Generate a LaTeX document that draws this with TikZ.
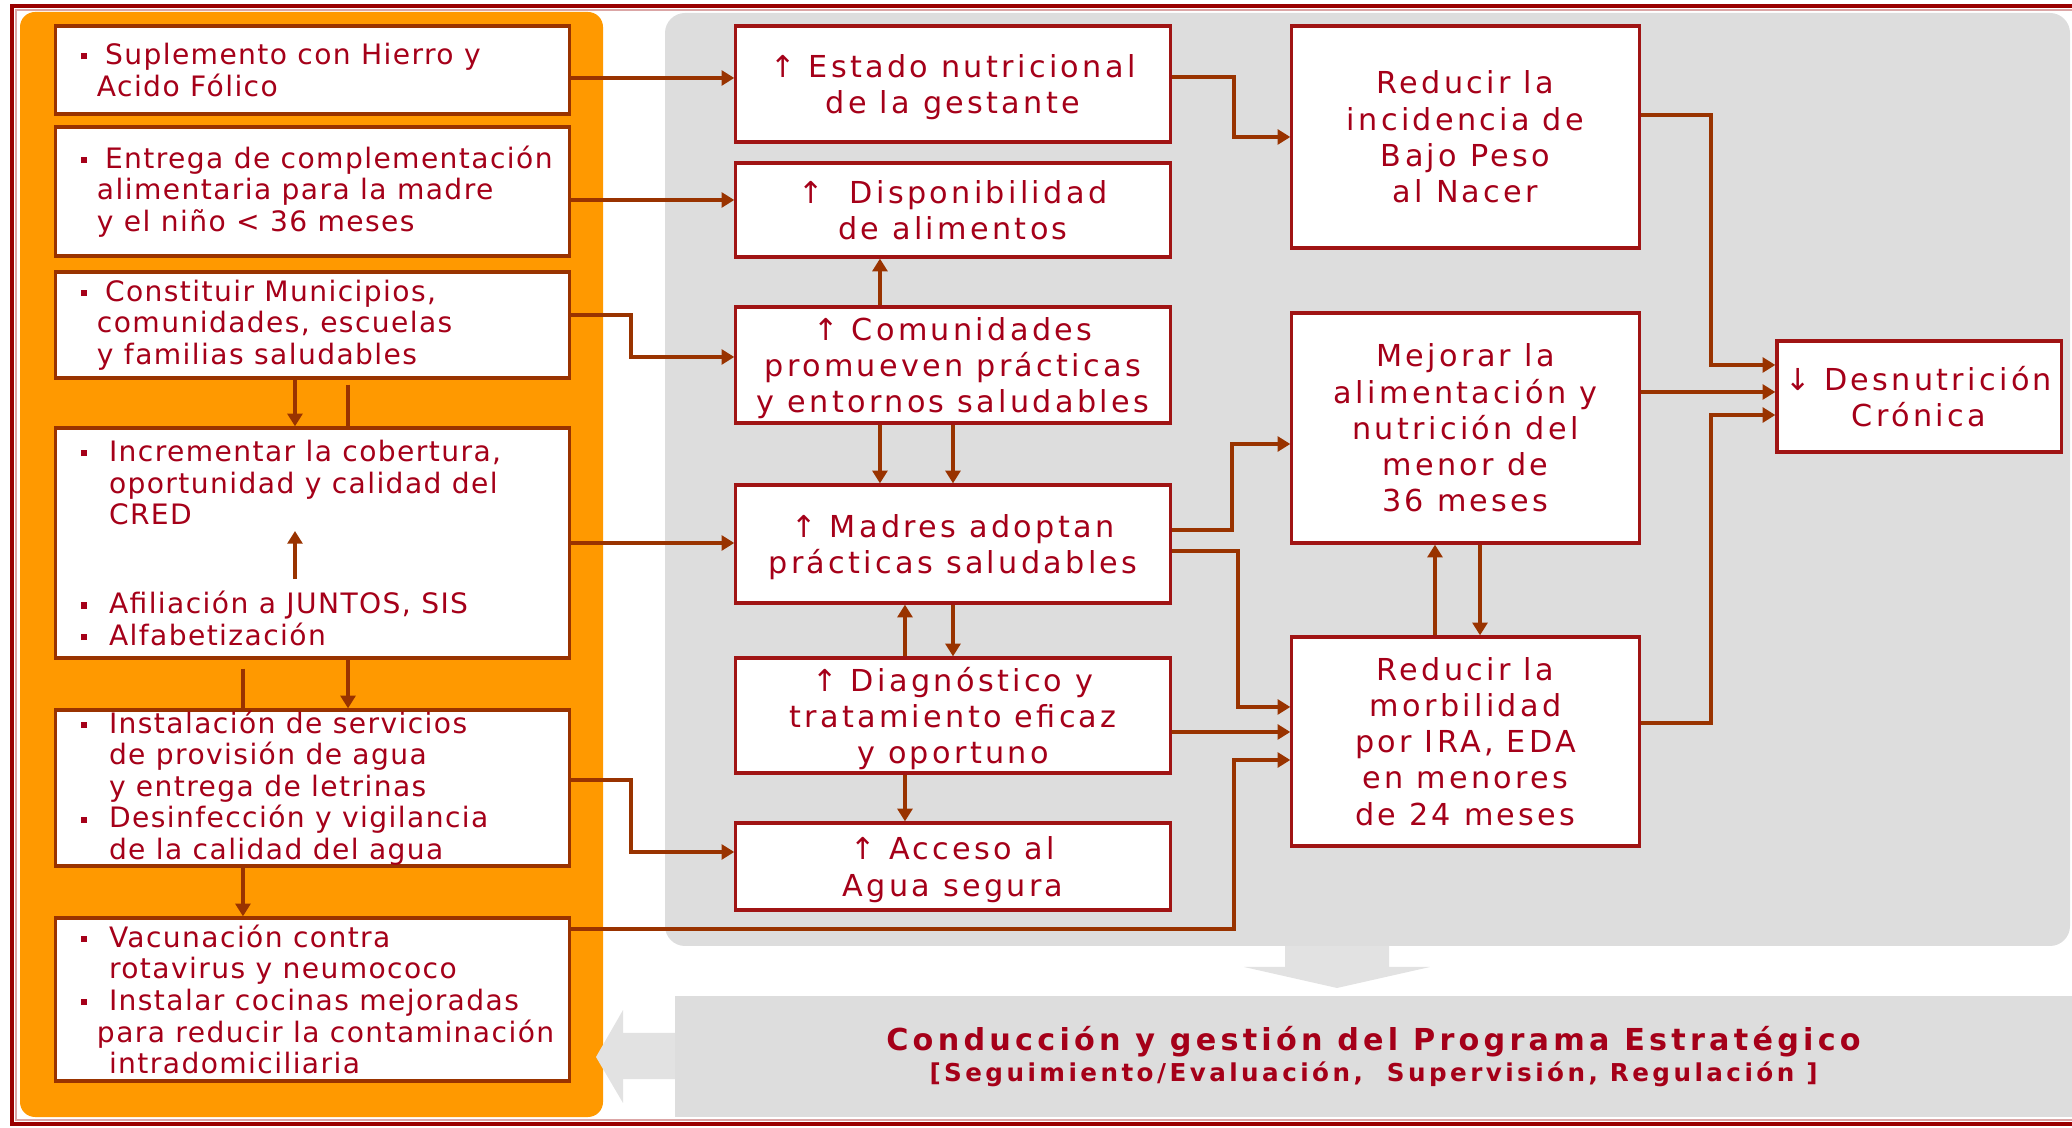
\documentclass[tikz,border=0pt]{standalone}
\usepackage{fontspec}
\setmainfont{DejaVu Sans}
\newfontfamily\FontLeft[LetterSpace=5]{DejaVu Sans}
\newfontfamily\FontBox[LetterSpace=11]{DejaVu Sans}
\newfontfamily\FontFoot[LetterSpace=14]{DejaVu Sans}
\usepackage{tikz}
\usetikzlibrary{arrows.meta}
\usepackage{xcolor}
\definecolor{ColFrame}{RGB}{153,0,0}
\definecolor{ColBox}{RGB}{160,20,20}
\definecolor{ColLine}{RGB}{153,51,0}
\definecolor{ColText}{RGB}{165,0,25}
\definecolor{ColOrange}{RGB}{255,153,0}
\definecolor{ColGray}{RGB}{221,221,221}
\newcommand{\Bul}[1][2.4mm]{\makebox[#1][l]{\rule[0.35ex]{0.6mm}{0.6mm}}}
\tikzstyle{BoxLeft}=[draw=ColLine,line width=0.9pt,fill=white,minimum width=51.3mm,inner sep=0pt]
\tikzstyle{TextLeft}=[align=left,inner sep=0pt,text=ColText,font=\FontLeft\fontsize{8}{9}\selectfont]
\tikzstyle{BoxBase}=[draw=ColBox,line width=0.9pt,fill=white,inner sep=0pt,
align=center,text=ColText,font=\FontBox\fontsize{8.6}{10.3}\selectfont]
\tikzstyle{BoxMid}=[BoxBase,minimum width=43.4mm,text depth=0pt]
\tikzstyle{BoxRight}=[BoxBase,minimum width=34.7mm]
\tikzstyle{FootPanel}=[fill=ColGray,minimum width=139.7mm,minimum height=12.1mm,inner sep=0pt,
align=center,text=ColText,font=\FontFoot\bfseries\fontsize{8.6}{8.8}\selectfont]
\tikzstyle{LinkArrow}=[ColLine,line width=1.1pt,-{Triangle[length=3.6pt,width=4.2pt]}]
\tikzstyle{LinkPlain}=[ColLine,line width=1.1pt]

\begin{document}
\begin{tikzpicture}[x=0.01cm,y=-0.01cm]
        \useasboundingbox(0,0)rectangle(2072,1128);
        \draw[ColFrame,line width=1.2pt](2072,6)--(12,6)--(12,1124)--(2072,1124);
        \draw[ColFrame!35,line width=0.4pt](2072,10)--(16,10)--(16,1120)--(2072,1120);
        \fill[ColOrange,rounded corners=1.5mm](20,12)rectangle(603,1117);
        \fill[ColGray,rounded corners=2mm](665,13)rectangle(2070,946);
        \fill[ColGray!85](1285,946)--(1389,946)--(1389,967)--(1430,967)--(1337,988)--(1244,967)--(1285,967)--cycle;
        \fill[ColGray!85](680,1033)--(623,1033)--(623,1010)--(596,1057)--(623,1103)--(623,1079)--(680,1079)--cycle;
        \node[FootPanel](Foot)at(1373.5,1056.5){Conducción y gestión del Programa Estratégico\\
        {\fontsize{7}{8.8}\selectfont[Seguimiento/Evaluación,\ \ Supervisión, Regulación ]}};

        \node[BoxLeft,minimum height=8.8mm](L1)at(312.5,70){};
        \node[BoxLeft,minimum height=12.9mm](L2)at(312.5,191.5){};
        \node[BoxLeft,minimum height=10.6mm](L3)at(312.5,325){};
        \node[BoxLeft,minimum height=23mm](L4)at(312.5,543){};
        \node[BoxLeft,minimum height=15.6mm](L5)at(312.5,788){};
        \node[BoxLeft,minimum height=16.3mm](L6)at(312.5,999.5){};
        \node[TextLeft,anchor=west](L1t)at([xshift=2.6mm]L1.west){\Bul Suplemento con Hierro y\\
        \hspace*{1.6mm}Acido Fólico};
        \node[TextLeft,anchor=west](L2t)at([xshift=2.6mm]L2.west){\Bul Entrega de complementación\\
        \hspace*{1.6mm}alimentaria para la madre\\\hspace*{1.6mm}y el niño < 36 meses};
        \node[TextLeft,anchor=west](L3t)at([xshift=2.6mm]L3.west){\Bul Constituir Municipios,\\
        \hspace*{1.6mm}comunidades, escuelas\\\hspace*{1.6mm}y familias saludables};
        \node[TextLeft,anchor=north west](L4a)at([xshift=2.6mm,yshift=-1.3mm]L4.north west){\Bul[2.8mm]Incrementar la cobertura,\\
        \hspace*{2.8mm}oportunidad y calidad del\\\hspace*{2.8mm}CRED};
        \node[TextLeft,anchor=south west](L4b)at([xshift=2.6mm,yshift=1.3mm]L4.south west){\Bul[2.8mm]Afiliación a JUNTOS, SIS\\
        \Bul[2.8mm]Alfabetización};
        \node[TextLeft,anchor=west](L5t)at([xshift=2.6mm]L5.west){\Bul[2.8mm]Instalación de servicios\\
        \hspace*{2.8mm}de provisión de agua\\\hspace*{2.8mm}y entrega de letrinas\\
        \Bul[2.8mm]Desinfección y vigilancia\\\hspace*{2.8mm}de la calidad del agua};
        \node[TextLeft,anchor=west](L6t)at([xshift=2.6mm]L6.west){\Bul[2.8mm]Vacunación contra\\
        \hspace*{2.8mm}rotavirus y neumococo\\\Bul[2.8mm]Instalar cocinas mejoradas\\
        \hspace*{1.6mm}para reducir la contaminación\\\hspace*{2.8mm}intradomiciliaria};

        \node[BoxMid,minimum height=11.6mm](M1)at(953,84){↑ Estado nutricional\\de la gestante};
        \node[BoxMid,minimum height=9.4mm](M2)at(953,210){↑\ \ Disponibilidad\\de alimentos};
        \node[BoxMid,minimum height=11.6mm](M3)at(953,365){↑ Comunidades\\promueven prácticas\\y entornos saludables};
        \node[BoxMid,minimum height=11.8mm](M4)at(953,544){↑ Madres adoptan\\prácticas saludables};
        \node[BoxMid,minimum height=11.5mm](M5)at(953,715.5){↑ Diagnóstico y\\tratamiento eficaz\\y oportuno};
        \node[BoxMid,minimum height=8.7mm](M6)at(953,866.5){↑ Acceso al\\Agua segura};

        \node[BoxRight,minimum height=22.2mm](R1)at(1465.5,137){Reducir la\\incidencia de\\Bajo Peso\\al Nacer};
        \node[BoxRight,minimum height=23mm](R2)at(1465.5,428){Mejorar la\\alimentación y\\nutrición del\\menor de\\36 meses};
        \node[BoxRight,minimum height=20.9mm](R3)at(1465.5,741.5){Reducir la\\morbilidad\\por IRA, EDA\\en menores\\de 24 meses};
        \node[BoxRight,minimum width=28.4mm,minimum height=11.1mm](D)at(1919,396.5){↓ Desnutrición\\Crónica};

        \draw[LinkArrow]([xshift=-1.75mm]L3.south)--([xshift=-1.75mm]L4.north);
        \draw[LinkPlain]([xshift=3.55mm,yshift=-0.5mm]L3.south)--([xshift=3.55mm]L4.north);
        \draw[LinkArrow]([xshift=-1.75mm,yshift=-3.6mm]L4.center)--([xshift=-1.75mm,yshift=1.2mm]L4.center);
        \draw[LinkPlain]([xshift=-6.95mm,yshift=-0.9mm]L4.south)--([xshift=-6.95mm]L5.north);
        \draw[LinkArrow]([xshift=3.55mm]L4.south)--([xshift=3.55mm]L5.north);
        \draw[LinkArrow]([xshift=-6.95mm]L5.south)--([xshift=-6.95mm]L6.north);

        \draw[LinkArrow]([yshift=-0.8mm]L1.east)--([yshift=0.6mm]M1.west);
        \draw[LinkArrow]([yshift=-0.85mm]L2.east)--([yshift=1mm]M2.west);
        \draw[LinkArrow]([yshift=1mm]L3.east)--++(6mm,0)|-([yshift=0.8mm]M3.west);
        \draw[LinkArrow](L4.east)--(L4.east-|M4.west);
        \draw[LinkArrow]([yshift=0.8mm]L5.east)--++(6mm,0)|-([yshift=1.45mm]M6.west);
        \draw[LinkArrow]([yshift=7.05mm]L6.east)--++(66.3mm,0)|-([yshift=-1.85mm]R3.west);

        \draw[LinkArrow]([xshift=-7.3mm]M3.north)--([xshift=-7.3mm]M2.south);
        \draw[LinkArrow]([xshift=-7.3mm]M3.south)--([xshift=-7.3mm]M4.north);
        \draw[LinkArrow](M3.south)--(M4.north);
        \draw[LinkArrow]([xshift=-4.8mm]M5.north)--([xshift=-4.8mm]M4.south);
        \draw[LinkArrow](M4.south)--(M5.north);
        \draw[LinkArrow]([xshift=-4.8mm]M5.south)--([xshift=-4.8mm]M6.north);

        \draw[LinkArrow]([yshift=0.7mm]M1.east)--++(6.2mm,0)|-(R1.west);
        \draw[LinkArrow]([yshift=1.4mm]M4.east)--++(6mm,0)|-([yshift=-1.6mm]R2.west);
        \draw[LinkArrow]([yshift=-0.7mm]M4.east)--++(6.6mm,0)|-([yshift=3.45mm]R3.west);
        \draw[LinkArrow]([yshift=-1.65mm]M5.east)--([yshift=0.95mm]R3.west);

        \draw[LinkArrow]([xshift=-3.05mm]R3.north)--([xshift=-3.05mm]R2.south);
        \draw[LinkArrow]([xshift=1.45mm]R2.south)--([xshift=1.45mm]R3.north);
        \draw[LinkArrow]([yshift=2.2mm]R1.east)--++(7mm,0)|-([yshift=3.15mm]D.west);
        \draw[LinkArrow]([yshift=3.6mm]R2.east)--([yshift=0.45mm]D.west);
        \draw[LinkArrow]([yshift=1.85mm]R3.east)--++(7mm,0)|-([yshift=-1.85mm]D.west);
    \end{tikzpicture}
\end{document}
